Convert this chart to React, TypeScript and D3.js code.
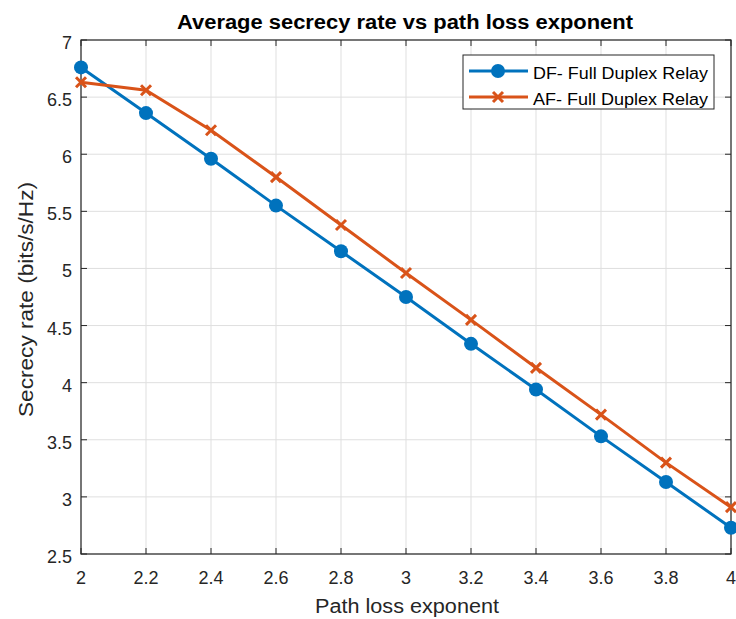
import React from "react";
import * as d3 from "d3";

const xValues = [2, 2.2, 2.4, 2.6, 2.8, 3, 3.2, 3.4, 3.6, 3.8, 4];
const dfValues = [6.76, 6.36, 5.96, 5.55, 5.15, 4.75, 4.34, 3.94, 3.53, 3.13, 2.73];
const afValues = [6.63, 6.56, 6.21, 5.8, 5.38, 4.96, 4.55, 4.13, 3.72, 3.3, 2.91];
const xTicks = [2, 2.2, 2.4, 2.6, 2.8, 3, 3.2, 3.4, 3.6, 3.8, 4];
const yTicks = [2.5, 3, 3.5, 4, 4.5, 5, 5.5, 6, 6.5, 7];
const seriesNames = ["DF- Full Duplex Relay", "AF- Full Duplex Relay"];

const W = 736, H = 619;
const L = 81, R = 731, T = 40, B = 554;
const BLUE = "#0072BD", ORANGE = "#D95319";
const FONT = "Liberation Sans, Arial, sans-serif";

export default function App() {
  const x = d3.scaleLinear().domain([2, 4]).range([L, R]);
  const y = d3.scaleLinear().domain([2.5, 7]).range([B, T]);
  const line = d3.line<number>().x((_, i) => x(xValues[i])).y((d) => y(d));
  const fmt = (v: number) => String(+v.toFixed(1));
  const xm = (cx: number, cy: number, s: number, key: string) => (
    <path key={key} d={`M${cx - s},${cy - s}L${cx + s},${cy + s}M${cx - s},${cy + s}L${cx + s},${cy - s}`} stroke={ORANGE} strokeWidth={3} fill="none" />
  );
  const tk = 6;
  return (
    <svg width={W} height={H} style={{ position: "absolute", left: 0, top: 0, background: "#fff" }} fontFamily={FONT}>
      <rect x={0} y={0} width={W} height={H} fill="#fff" />
      <rect x={L} y={T} width={R - L} height={B - T} fill="#fff" />
      {xTicks.map((t) => (
        <line key={"gx" + t} x1={x(t)} x2={x(t)} y1={T} y2={B} stroke="#dfdfdf" strokeWidth={1} />
      ))}
      {yTicks.map((t) => (
        <line key={"gy" + t} x1={L} x2={R} y1={y(t)} y2={y(t)} stroke="#dfdfdf" strokeWidth={1} />
      ))}
      {xTicks.map((t) => (
        <g key={"tx" + t}>
          <line x1={x(t)} x2={x(t)} y1={B} y2={B - tk} stroke="#262626" />
          <line x1={x(t)} x2={x(t)} y1={T} y2={T + tk} stroke="#262626" />
          <text x={x(t)} y={B + 30} textAnchor="middle" fontSize={18} fill="#262626">{fmt(t)}</text>
        </g>
      ))}
      {yTicks.map((t) => (
        <g key={"ty" + t}>
          <line x1={L} x2={L + tk} y1={y(t)} y2={y(t)} stroke="#262626" />
          <line x1={R} x2={R - tk} y1={y(t)} y2={y(t)} stroke="#262626" />
          <text x={L - 9} y={y(t) + 9} textAnchor="end" fontSize={18} fill="#262626">{fmt(t)}</text>
        </g>
      ))}
      <rect x={L} y={T} width={R - L} height={B - T} fill="none" stroke="#262626" strokeWidth={1.2} />
      <path d={line(dfValues) || ""} stroke={BLUE} strokeWidth={3} fill="none" />
      <path d={line(afValues) || ""} stroke={ORANGE} strokeWidth={3} fill="none" />
      {dfValues.map((v, i) => (
        <circle key={"dc" + i} cx={x(xValues[i])} cy={y(v)} r={7} fill={BLUE} />
      ))}
      {afValues.map((v, i) => xm(x(xValues[i]), y(v), 5, "ax" + i))}
      <text x={177} y={29} fontSize={20} fontWeight="bold" fill="#000" textLength={456} lengthAdjust="spacingAndGlyphs">Average secrecy rate vs path loss exponent</text>
      <text x={315} y={613} fontSize={20} fill="#262626" textLength={184} lengthAdjust="spacingAndGlyphs">Path loss exponent</text>
      <text transform={`translate(33,417) rotate(-90)`} fontSize={20} fill="#262626" textLength={235} lengthAdjust="spacingAndGlyphs">Secrecy rate (bits/s/Hz)</text>
      <g>
        <rect x={463} y={55} width={251} height={54} fill="#fff" stroke="#262626" strokeWidth={1} />
        <line x1={469} x2={528} y1={71} y2={71} stroke={BLUE} strokeWidth={3} />
        <circle cx={498} cy={71} r={7} fill={BLUE} />
        <text x={533} y={79} fontSize={16} fill="#000" textLength={175} lengthAdjust="spacingAndGlyphs">{seriesNames[0]}</text>
        <line x1={469} x2={528} y1={97} y2={97} stroke={ORANGE} strokeWidth={3} />
        {xm(498, 97, 5, "lx")}
        <text x={533} y={105} fontSize={16} fill="#000" textLength={175} lengthAdjust="spacingAndGlyphs">{seriesNames[1]}</text>
      </g>
    </svg>
  );
}
